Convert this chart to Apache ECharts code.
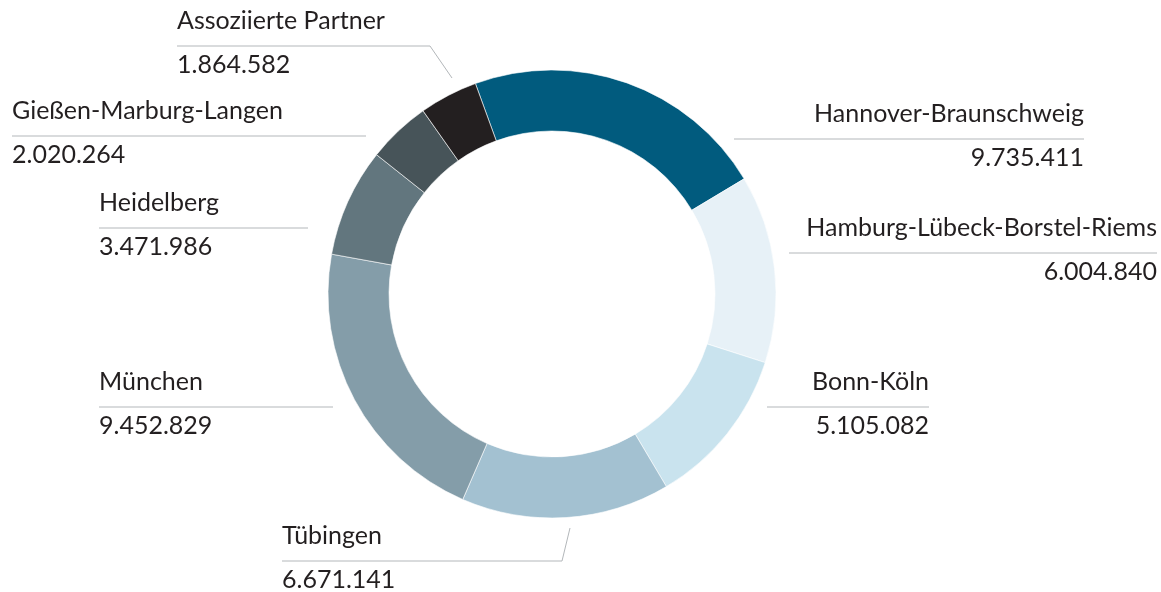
<!DOCTYPE html>
<html>
<head>
<meta charset="utf-8">
<script src="https://cdn.jsdelivr.net/npm/echarts@6/dist/echarts.min.js"></script>
<style>
html, body { margin: 0; background: #ffffff; }
#chart { width: 1161px; height: 592px; }
</style>
</head>
<body>
<div id="chart"></div>
<script>
var regions = [
  "Hannover-Braunschweig",
  "Hamburg-Lübeck-Borstel-Riems",
  "Bonn-Köln",
  "Tübingen",
  "München",
  "Heidelberg",
  "Gießen-Marburg-Langen",
  "Assoziierte Partner"
];
var members = [9735411, 6004840, 5105082, 6671141, 9452829, 3471986, 2020264, 1864582];
var colors = ["#015b7e", "#e7f1f7", "#c9e3ee", "#a3c1d1", "#849da9", "#62767e", "#475459", "#231f20"];

// where each label sits: y of the rule, its two x ends, optional elbow start
var anchors = [
  { side: "R", y: 139, x0: 734, x1: 1084 },
  { side: "R", y: 253, x0: 789, x1: 1157 },
  { side: "R", y: 407, x0: 767, x1: 929 },
  { side: "L", y: 561, x0: 282, x1: 562, from: [570, 528] },
  { side: "L", y: 407, x0: 99, x1: 333 },
  { side: "L", y: 228, x0: 99, x1: 308 },
  { side: "L", y: 136, x0: 12, x1: 366 },
  { side: "L", y: 46, x0: 177, x1: 430, from: [452, 78] }
];

function fmt(v) {
  return String(v).replace(/\B(?=(\d{3})+(?!\d))/g, ".");
}

var chart = echarts.init(document.getElementById("chart"));
chart.setOption({
  backgroundColor: "#ffffff",
  animation: false,
  series: [
    {
      type: "pie",
      center: [552, 294],
      radius: [163, 224],
      startAngle: 110,
      clockwise: true,
      avoidLabelOverlap: false,
      silent: true,
      itemStyle: { borderColor: "#ffffff", borderWidth: 0.6 },
      label: {
        show: true,
        position: "outside",
        color: "#231f20",
        fontFamily: "Lato",
        formatter: function (p) {
          var s = anchors[p.dataIndex].side;
          return "{n" + s + "|" + p.name + "}\n{v" + s + "|" + fmt(p.value) + "}";
        },
        rich: {
          nL: { fontFamily: "Lato", fontSize: 25, color: "#231f20", lineHeight: 40, align: "left" },
          vL: { fontFamily: "Lato", fontSize: 25, color: "#231f20", lineHeight: 48, align: "left" },
          nR: { fontFamily: "Lato", fontSize: 25, color: "#231f20", lineHeight: 40, align: "right" },
          vR: { fontFamily: "Lato", fontSize: 25, color: "#231f20", lineHeight: 48, align: "right" }
        }
      },
      labelLine: {
        show: true,
        lineStyle: { color: "#b3b7ba", width: 1 }
      },
      labelLayout: function (p) {
        var a = anchors[p.dataIndex];
        var pts;
        if (a.side === "R") {
          pts = [[a.x0, a.y], [a.x0, a.y], [a.x1, a.y]];
        } else {
          pts = [a.from ? a.from : [a.x1, a.y], [a.x1, a.y], [a.x0, a.y]];
        }
        return {
          x: a.side === "R" ? a.x1 : a.x0,
          y: a.y - 45,
          align: a.side === "R" ? "right" : "left",
          verticalAlign: "top",
          labelLinePoints: pts
        };
      },
      data: regions.map(function (r, i) {
        return { name: r, value: members[i], itemStyle: { color: colors[i] } };
      })
    }
  ]
});
</script>
</body>
</html>
